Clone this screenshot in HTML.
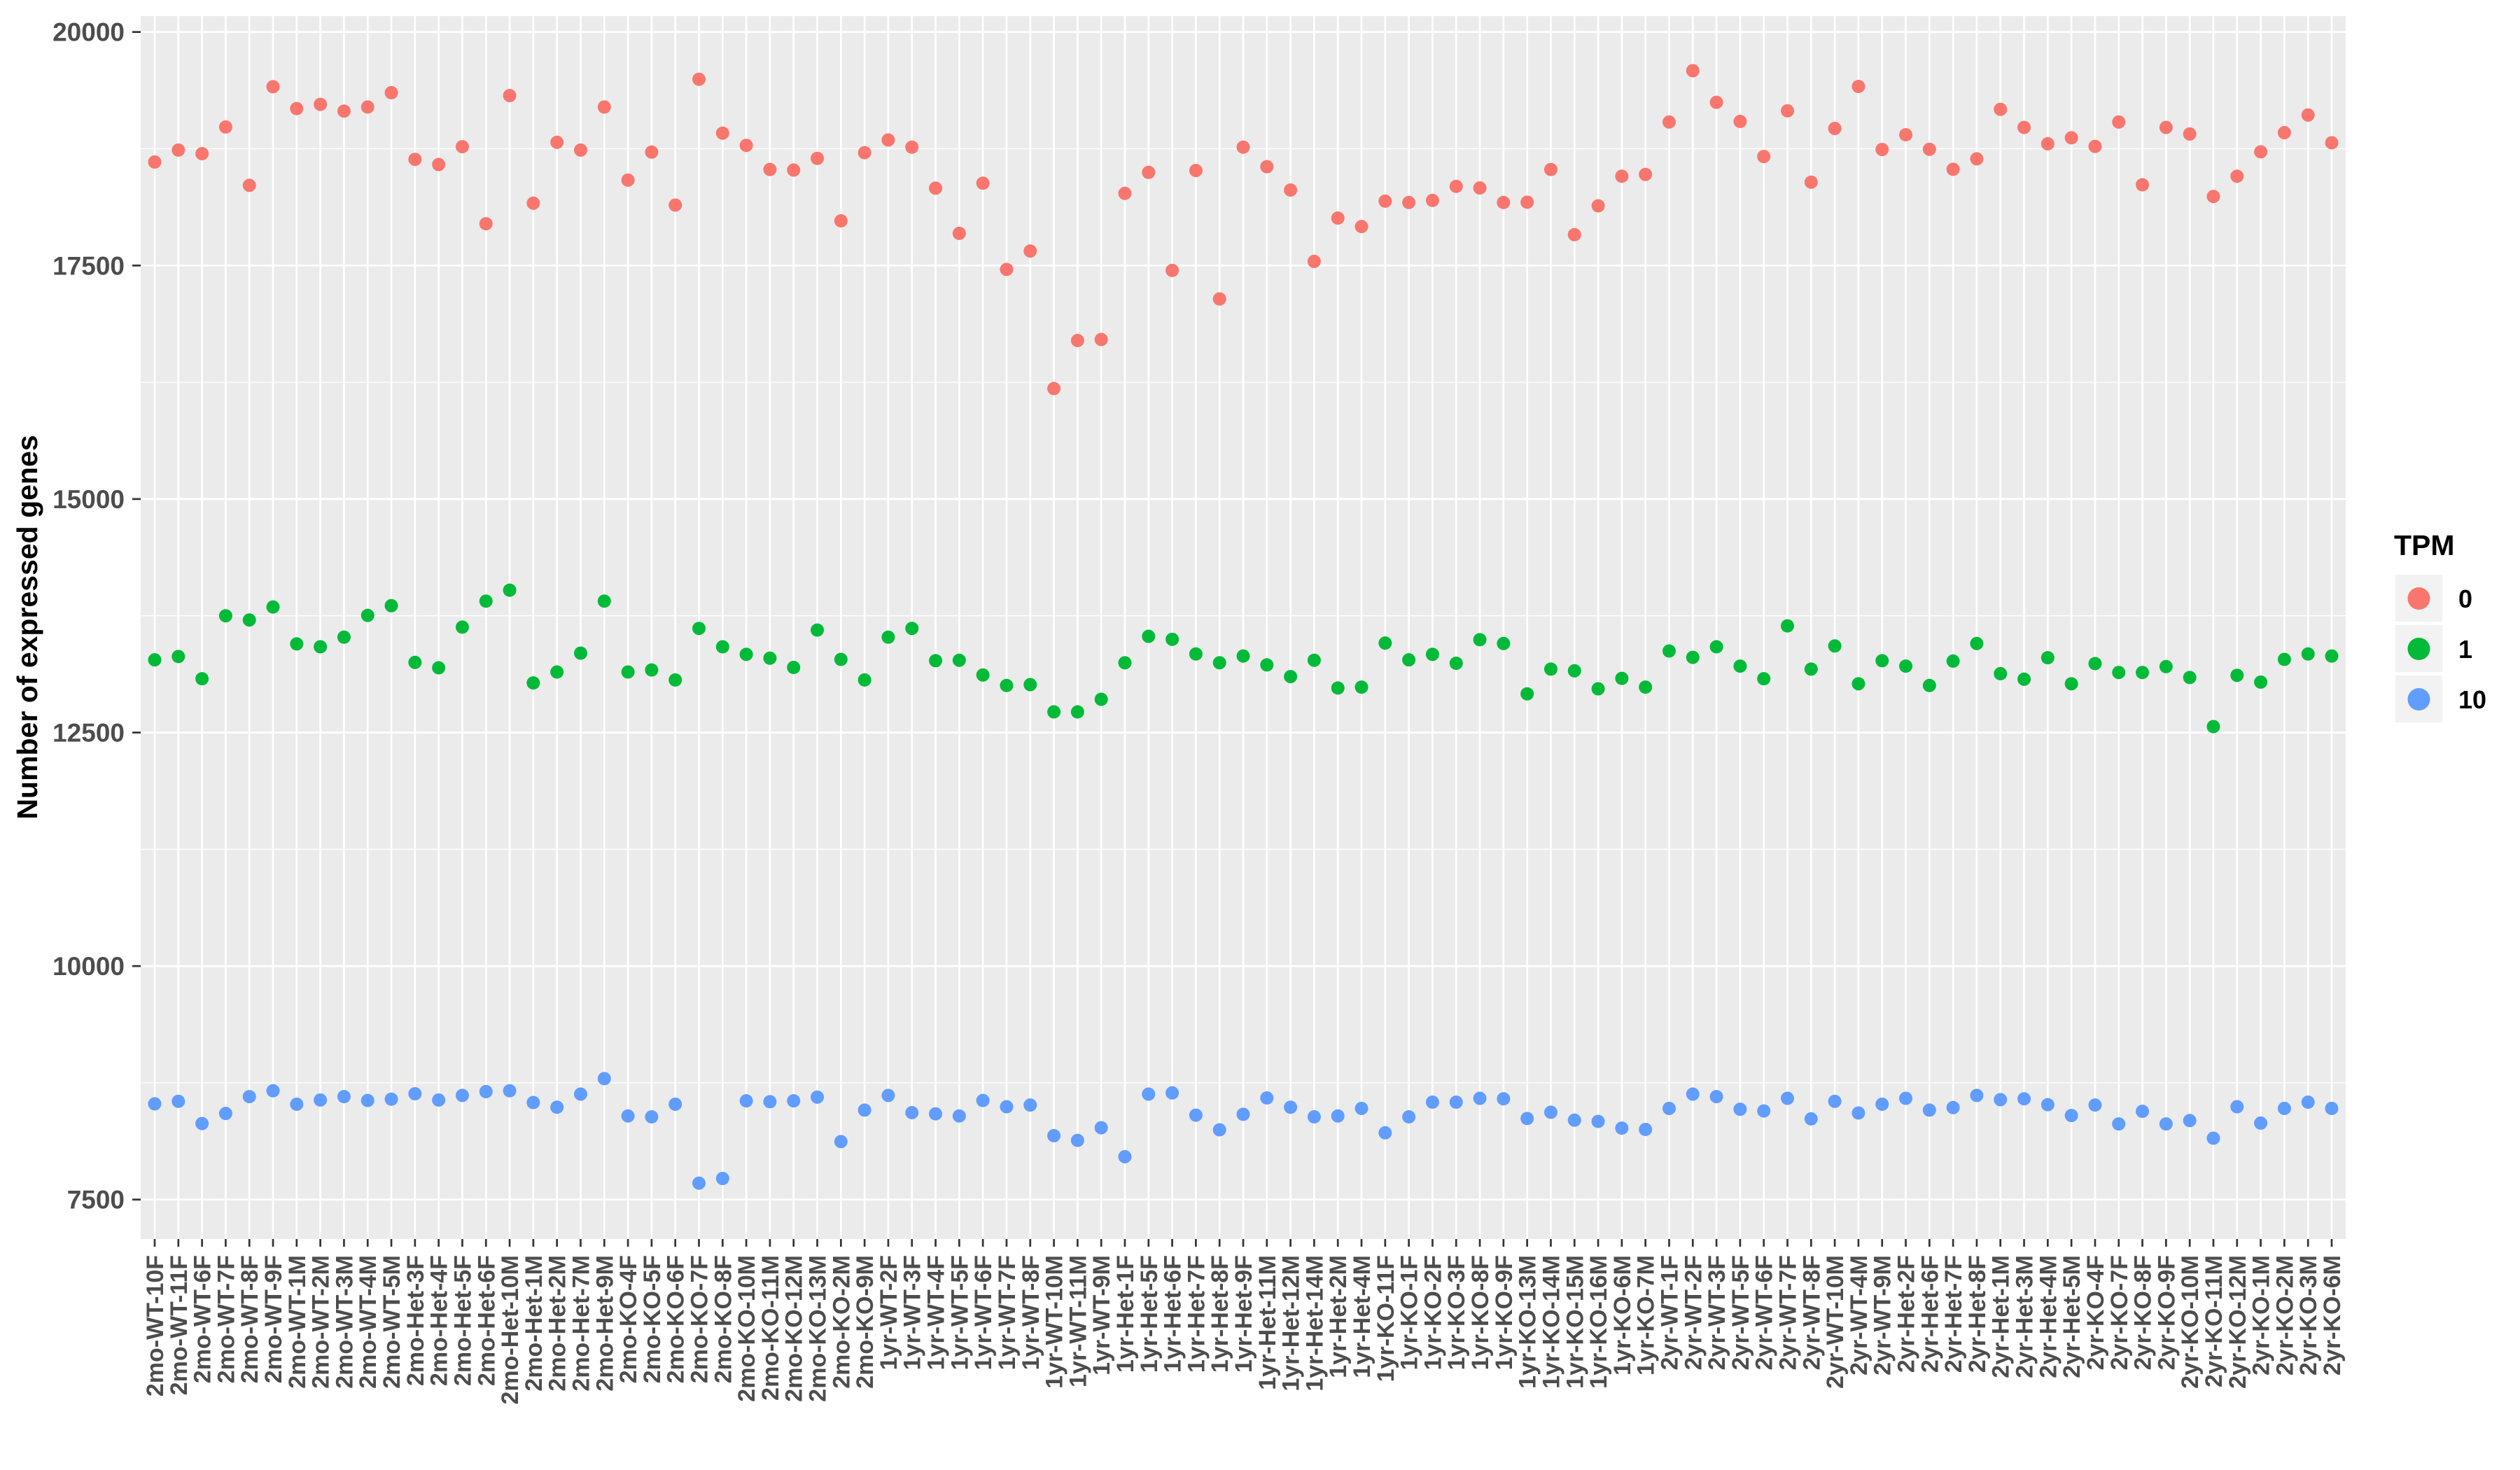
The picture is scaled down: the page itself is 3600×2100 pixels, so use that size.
<!DOCTYPE html>
<html><head><meta charset="utf-8">
<style>
html,body{margin:0;padding:0;background:#fff;}
svg{display:block;font-family:"Liberation Sans",Arial,sans-serif;}
</style></head>
<body>
<svg id="chart" width="3600" height="2100" viewBox="0 0 3600 2100" xmlns="http://www.w3.org/2000/svg">
<rect x="0" y="0" width="3600" height="2100" fill="#ffffff"/>
<g id="panel"></g>
<g id="points"></g>
<g id="axes"></g>
<text transform="translate(53,896) rotate(-90)" text-anchor="middle" font-size="41" font-weight="bold" fill="#000">Number of expressed genes</text>
<g>
<text x="3420" y="793" font-size="41" font-weight="bold" fill="#000">TPM</text>
<g>
<rect x="3422" y="821" width="67" height="67" fill="#f2f2f2"/>
<circle cx="3455.5" cy="855" r="16" fill="#F8766D"/>
<text x="3512" y="868" font-size="36" font-weight="bold" fill="#000">0</text>
</g>
<g>
<rect x="3422" y="893" width="67" height="67" fill="#f2f2f2"/>
<circle cx="3455.5" cy="927" r="16" fill="#00BA38"/>
<text x="3512" y="940" font-size="36" font-weight="bold" fill="#000">1</text>
</g>
<g>
<rect x="3422" y="965" width="67" height="67" fill="#f2f2f2"/>
<circle cx="3455.5" cy="999" r="16" fill="#619CFF"/>
<text x="3512" y="1012" font-size="36" font-weight="bold" fill="#000">10</text>
</g>
</g>
</svg>
<script>
const categories = ["2mo-WT-10F","2mo-WT-11F","2mo-WT-6F","2mo-WT-7F","2mo-WT-8F","2mo-WT-9F","2mo-WT-1M","2mo-WT-2M","2mo-WT-3M","2mo-WT-4M","2mo-WT-5M",
"2mo-Het-3F","2mo-Het-4F","2mo-Het-5F","2mo-Het-6F","2mo-Het-10M","2mo-Het-1M","2mo-Het-2M","2mo-Het-7M","2mo-Het-9M",
"2mo-KO-4F","2mo-KO-5F","2mo-KO-6F","2mo-KO-7F","2mo-KO-8F","2mo-KO-10M","2mo-KO-11M","2mo-KO-12M","2mo-KO-13M","2mo-KO-2M","2mo-KO-9M",
"1yr-WT-2F","1yr-WT-3F","1yr-WT-4F","1yr-WT-5F","1yr-WT-6F","1yr-WT-7F","1yr-WT-8F","1yr-WT-10M","1yr-WT-11M","1yr-WT-9M",
"1yr-Het-1F","1yr-Het-5F","1yr-Het-6F","1yr-Het-7F","1yr-Het-8F","1yr-Het-9F","1yr-Het-11M","1yr-Het-12M","1yr-Het-14M","1yr-Het-2M","1yr-Het-4M",
"1yr-KO-11F","1yr-KO-1F","1yr-KO-2F","1yr-KO-3F","1yr-KO-8F","1yr-KO-9F","1yr-KO-13M","1yr-KO-14M","1yr-KO-15M","1yr-KO-16M","1yr-KO-6M","1yr-KO-7M",
"2yr-WT-1F","2yr-WT-2F","2yr-WT-3F","2yr-WT-5F","2yr-WT-6F","2yr-WT-7F","2yr-WT-8F","2yr-WT-10M","2yr-WT-4M","2yr-WT-9M",
"2yr-Het-2F","2yr-Het-6F","2yr-Het-7F","2yr-Het-8F","2yr-Het-1M","2yr-Het-3M","2yr-Het-4M","2yr-Het-5M",
"2yr-KO-4F","2yr-KO-7F","2yr-KO-8F","2yr-KO-9F","2yr-KO-10M","2yr-KO-11M","2yr-KO-12M","2yr-KO-1M","2yr-KO-2M","2yr-KO-3M","2yr-KO-6M"];
const tpm0 = [18608,18736,18697,18983,18358,19414,19180,19225,19153,19197,19350,18636,18581,18772,17947,19319,18167,18819,18736,19197,18414,18714,18147,19494,18917,18786,18528,18522,18647,17978,18708,
18844,18767,18328,17844,18381,17458,17655,16183,16697,16708,18272,18497,17447,18517,17142,18767,18558,18308,17544,18008,17917,18189,18175,18197,18347,18330,18175,18178,18528,17830,18139,
18456,18475,19036,19586,19247,19042,18667,19156,18392,18967,19417,18742,18900,18744,18530,18642,19172,18978,18803,18867,18775,19036,18364,18978,18908,18239,18456,18717,18922,19111,18814];
const tpm1 = [13278,13314,13076,13750,13705,13844,13449,13418,13521,13754,13858,13251,13193,13629,13907,14024,13031,13148,13350,13907,13148,13170,13063,13615,13418,13337,13296,13197,13597,13283,13063,
13521,13615,13269,13274,13116,13004,13013,12721,12721,12856,13247,13530,13498,13341,13247,13319,13224,13099,13274,12977,12986,13458,13278,13337,13242,13494,13453,12914,13179,13161,12968,
13080,12986,13373,13305,13418,13211,13076,13642,13179,13427,13022,13269,13211,13004,13265,13453,13130,13071,13301,13022,13238,13143,13143,13206,13089,12564,13112,13040,13283,13341,13319];
const tpm10 = [8525,8552,8314,8422,8602,8665,8521,8566,8602,8561,8575,8633,8566,8615,8656,8665,8539,8489,8629,8795,8395,8386,8521,7676,7726,8557,8548,8557,8597,8121,8458,
8615,8431,8418,8395,8561,8494,8512,8184,8134,8269,7959,8629,8642,8404,8247,8413,8588,8489,8386,8395,8476,8215,8386,8543,8543,8584,8579,8368,8435,8350,8337,
8265,8251,8476,8629,8602,8467,8449,8584,8364,8552,8427,8521,8584,8458,8485,8615,8570,8579,8516,8400,8512,8310,8445,8310,8346,8157,8494,8319,8476,8543,8476];
const yTicks = [7500,10000,12500,15000,17500,20000];
const yMinor = [8750,11250,13750,16250,18750];

const NS = "http://www.w3.org/2000/svg";
const PL = 201, PR = 3351, PT = 23, PB = 1770;
const X0 = 221, XSTEP = (3331 - 221) / (categories.length - 1);
function xScale(i){ return X0 + i * XSTEP; }
function yScale(v){ return 45.7 + (20000 - v) * 0.13344; }
function mk(tag, attrs, parent){ const e = document.createElementNS(NS, tag); for (const k in attrs) e.setAttribute(k, attrs[k]); parent.appendChild(e); return e; }

const panel = document.getElementById('panel');
const bg = mk('rect', {x:PL, y:PT, width:PR-PL, height:PB-PT, fill:'#ebebeb'}, panel);


yMinor.forEach(v => {
  const l = mk('line', {x1:PL, x2:PR, y1:yScale(v), y2:yScale(v), stroke:'#fff', 'stroke-width':1.3}, panel);
  
  
});
yTicks.forEach(v => {
  const l = mk('line', {x1:PL, x2:PR, y1:yScale(v), y2:yScale(v), stroke:'#fff', 'stroke-width':2.7}, panel);
  
  
});
categories.forEach((c, i) => {
  const l = mk('line', {x1:xScale(i), x2:xScale(i), y1:PT, y2:PB, stroke:'#fff', 'stroke-width':2.7}, panel);
  
  
});

const pts = document.getElementById('points');
const series = [[tpm0,'#F8766D','tpm-0'],[tpm1,'#00BA38','tpm-1'],[tpm10,'#619CFF','tpm-10']];
series.forEach(([vals, col, nm]) => {
  vals.forEach((v, i) => {
    const c = mk('circle', {cx:xScale(i), cy:yScale(v), r:9.5, fill:col}, pts);
    
    
  });
});

const axes = document.getElementById('axes');
yTicks.forEach(v => {
  const y = yScale(v);
  const t = mk('line', {x1:189, x2:PL, y1:y, y2:y, stroke:'#333', 'stroke-width':2.7}, axes);
  
  
  const lb = mk('text', {x:178, y:y+13, 'text-anchor':'end', 'font-size':37, 'font-weight':'bold', fill:'#4d4d4d'}, axes);
  lb.textContent = v;
  
  
});
categories.forEach((c, i) => {
  const x = xScale(i);
  const t = mk('line', {x1:x, x2:x, y1:PB, y2:PB+11, stroke:'#333', 'stroke-width':2.7}, axes);
  
  
  const lb = mk('text', {transform:'translate(' + (x+12) + ',1793) rotate(-90)', 'text-anchor':'end', 'font-size':34, 'font-weight':'bold', fill:'#4d4d4d'}, axes);
  lb.textContent = c;
  
  
});
</script>
</body></html>
